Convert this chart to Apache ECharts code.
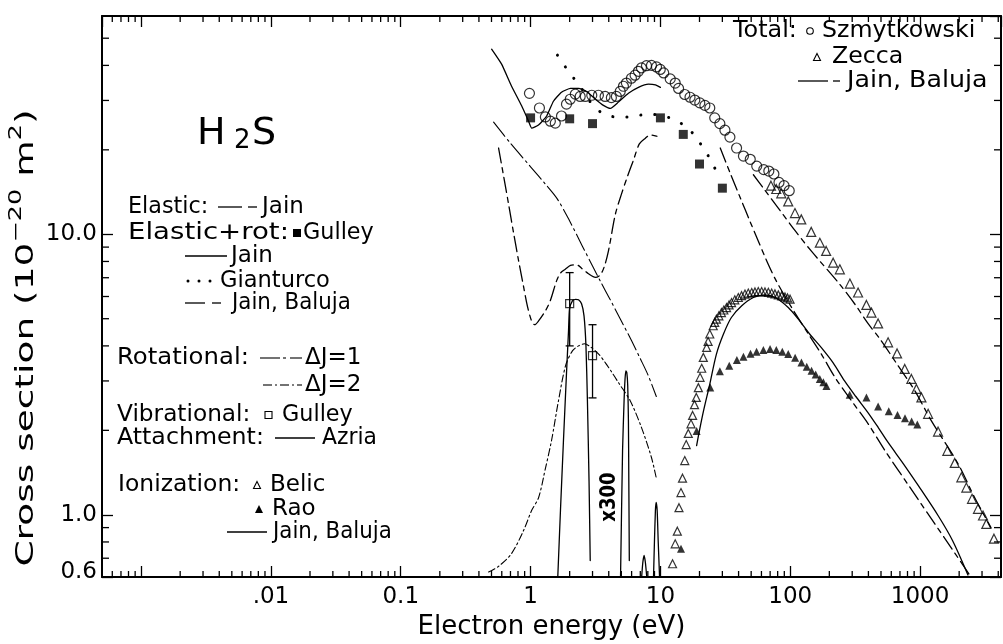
<!DOCTYPE html>
<html>
<head>
<meta charset="utf-8">
<script src="https://cdn.jsdelivr.net/npm/echarts@6/dist/echarts.min.js"></script>
<style>
  html, body { margin: 0; padding: 0; background: #fff; }
  #chart { width: 1003px; height: 644px; }
</style>
</head>
<body>
<div id="chart"></div>
<script>
// Electron scattering on H2S: energy in eV, cross sections in 1e-20 m^2.

// Total cross section, Szmytkowski (open circles)
const szmytkowskiE = [0.98,1.17,1.30,1.42,1.55,1.73,1.89,2.02,2.21,2.41,2.64,2.96,3.33,3.75,4.19,4.58,4.90,5.19,5.47,5.98,6.38,6.77,7.14,7.81,8.53,9.33,9.97,10.6,11.9,13.0,13.8,15.4,16.9,18.4,20.1,22.0,24.0,26.2,28.7,31.4,34.3,38.6,43.6,49.2,55.2,62.5,68.4,74.8,81.9,89.6,98.2];
const szmytkowskiQ = [31.8,28.2,26.2,25.3,24.9,26.4,29.1,30.3,31.6,31.0,31.0,31.3,31.3,31.0,30.7,31.0,32.3,33.7,34.6,36.0,36.9,38.1,39.2,39.9,40.0,39.5,38.7,37.6,35.8,34.6,33.1,31.5,30.8,30.1,29.4,28.8,28.2,26.0,24.8,23.5,22.2,20.3,19.0,18.5,17.5,17.0,16.8,16.4,15.3,14.9,14.3];

// Total cross section, Zecca (open triangles)
const zeccaE = [71.0,78.0,85.3,96.5,108.7,121.6,145,169,189,214,241,288,333,386,422,475,567,665,762,857,937,1024,1153,1375,1622,1849,2079,2271,2513,2793,3053,3237,3707];
const zeccaQ = [14.9,14.5,14.0,13.1,11.9,11.3,10.2,9.33,8.72,7.92,7.50,6.67,6.20,5.60,5.26,4.81,4.12,3.76,3.31,3.05,2.81,2.62,2.29,1.98,1.69,1.53,1.36,1.25,1.14,1.05,0.994,0.928,0.822];

// Total cross section, Jain & Baluja
const totalJainBalujaE = [52.0,62.1,80.9,109,145,240,315,398,490,677,911,1216,1960,2636,3516];
const totalJainBalujaQ = [16.3,14.6,12.4,10.3,8.72,6.64,5.63,4.80,4.24,3.40,2.77,2.17,1.52,1.15,0.90];

// Elastic, Jain
const elasticJainE = [0.567,0.620,0.677,0.740,0.809,0.884,0.948,1.018,1.074,1.152,1.297,1.417,1.585,1.702,1.859,2.03,2.26,2.51,2.79,3.16,3.45,3.71,3.98,4.50,5.01,5.58,6.23,6.88,7.66,8.35,9.30,10.0];
const elasticJainQ = [20.3,16.1,12.8,10.1,8.04,6.49,5.51,4.91,4.76,4.91,5.32,5.79,6.82,7.28,7.52,7.74,7.78,7.52,7.23,7.02,7.17,7.71,8.72,11.8,13.9,16.1,18.5,21.0,22.0,22.6,22.4,22.0];

// Elastic + rotational: Gulley (filled squares)
const gulleyElRotE = [1,2,3,10,15,20,30];
const gulleyElRotQ = [26.0,25.8,24.8,26.0,22.7,17.8,14.6];

// Elastic + rotational: Jain (solid)
const jainElRotE = [0.501,0.598,0.714,0.853,0.965,1.02,1.15,1.33,1.50,1.73,2.03,2.34,2.70,3.16,3.64,4.12,4.75,5.67,6.77,8.09,9.15,10.0];
const jainElRotQ = [45.7,40.4,33.7,28.7,25.3,23.9,24.5,26.4,29.8,32.1,33.1,33.1,32.3,30.3,28.8,28.1,29.6,31.8,33.4,34.3,34.1,33.4];

// Elastic + rotational: Gianturco (dotted)
const gianturcoE = [1.61,1.86,2.18,2.56,2.94,3.58,4.58,5.98,7.81,9.7,12.1,15.1,18.4,21.2,24.4,27.4];
const gianturcoQ = [43.5,39.4,35.7,32.3,29.3,27.0,26.2,26.2,26.8,26.6,25.9,24.5,22.5,20.4,18.4,16.5];

// Elastic + rotational: Jain & Baluja
const elRotJainBalujaE = [28.9,34.5,41.2,49.2,56.7,65.4,78.0,101.8,137.5,173,222,289,398,538,809,1216,1794,2467];
const elRotJainBalujaQ = [20.3,16.5,13.5,11.06,9.47,8.10,6.82,5.51,4.42,3.75,3.08,2.59,2.11,1.69,1.28,0.970,0.746,0.60];

// Rotational excitation, Delta J = 1 and Delta J = 2
const rotJ1E = [0.519,0.70,1.0,1.3,1.6,2.0,2.5,3.0,3.5,4.0,5.0,6.0,7.0,8.0,9.3];
const rotJ1Q = [25.1,21.1,17.4,15.1,13.4,11.15,9.09,7.71,6.71,5.98,4.91,4.17,3.60,3.16,2.64];
const rotJ2E = [0.475,0.567,0.714,0.884,1.018,1.152,1.304,1.45,1.64,1.86,2.10,2.34,2.60,2.89,3.33,3.77,4.19,4.75,5.85,7.14,8.53,9.3];
const rotJ2Q = [0.625,0.655,0.728,0.88,1.035,1.15,1.47,1.84,2.55,3.40,3.84,4.00,4.07,3.97,3.75,3.48,3.24,2.96,2.55,2.05,1.60,1.35];

// Vibrational excitation, Gulley (open squares with error bars)
const gulleyVibE  = [2, 3];
const gulleyVibQ  = [5.66, 3.69];
const gulleyVibLo = [4.0, 2.61];
const gulleyVibHi = [7.3, 4.76];

// Dissociative attachment, Azria (x300), four resonance peaks
const azriaPeak1E = [1.62,1.70,1.79,1.89,1.96,1.995,2.10,2.22,2.34,2.47,2.58,2.67,2.74,2.82,2.88];
const azriaPeak1Q = [0.60,1.045,1.82,3.18,4.53,5.42,5.79,5.86,5.84,5.65,5.12,4.00,2.55,1.32,0.687];
const azriaPeak2E = [4.93,5.11,5.25,5.34,5.42,5.51,5.60,5.67,5.71,5.76];
const azriaPeak2Q = [0.60,1.69,2.55,3.05,3.26,3.21,2.89,2.17,1.32,0.687];
const azriaPeak3E = [7.17,7.32,7.49,7.66,7.85];
const azriaPeak3Q = [0.60,0.676,0.716,0.676,0.60];
const azriaPeak4E = [8.85,9.0,9.15,9.27,9.44,9.61,9.85];
const azriaPeak4Q = [0.60,0.81,1.035,1.107,1.035,0.81,0.60];

// Ionization: Belic (open triangles), Rao (filled triangles), Jain & Baluja (solid)
const belicE = [12.4,13.0,13.5,13.9,14.4,14.8,15.4,15.8,16.4,17.2,17.7,18.3,18.9,19.6,20.2,20.8,21.4,22.7,23.3,24.0,25.5,26.2,27.0,28.2,29.5,30.8,32.3,33.8,35.3,37.4,39.8,42.2,44.8,47.5,50.5,53.5,56.7,60.2,63.9,67.8,71.9,76.2,80.9,85.8,91.1,95.3,99.7];
const belicQ = [0.669,0.788,0.874,1.06,1.20,1.35,1.56,1.78,1.95,2.11,2.26,2.47,2.62,2.84,3.09,3.33,3.64,3.95,4.15,4.41,4.72,4.85,4.98,5.12,5.26,5.37,5.48,5.60,5.71,5.84,5.95,6.04,6.12,6.17,6.20,6.23,6.25,6.25,6.23,6.21,6.17,6.13,6.08,6.03,5.98,5.93,5.87];
const raoE = [14.4,19.0,24.2,28.7,33.9,38.8,43.6,49.4,55.0,62.1,69.9,78.1,86.9,96.5,109,122,134,146,157,169,180,190,287,386,475,574,670,765,861,952];
const raoQ = [0.757,1.99,2.84,3.25,3.40,3.56,3.66,3.75,3.81,3.87,3.90,3.87,3.81,3.74,3.63,3.49,3.37,3.26,3.16,3.05,2.97,2.88,2.68,2.62,2.43,2.34,2.27,2.21,2.15,2.10];
const ionJainBalujaE = [19.0,20.0,21.5,24.0,27.0,30.6,35.2,42.3,52.0,63.9,76.6,96.5,115,141,173,214,262,320,398,475,567,744,970,1375,1777,2338];
const ionJainBalujaQ = [1.765,2.0,2.35,2.92,3.74,4.41,5.05,5.56,5.95,6.08,5.95,5.48,4.99,4.41,3.95,3.48,3.0,2.64,2.31,2.05,1.81,1.52,1.27,0.994,0.81,0.61];

// Axis extents and tick labels
const X_MIN = 0.0005, X_MAX = 4200;
const Y_MIN = 0.6, Y_MAX = 60;
const xTickValues = [0.01, 0.1, 1, 10, 100, 1000];
const xTickLabels = ['.01', '0.1', '1', '10', '100', '1000'];
const yTickValues = [0.6, 1, 10];
const yTickLabels = ['0.6', '1.0', '10.0'];
const minorMultiples = [2, 3, 4, 5, 6, 7, 8, 9];

const INK = '#000';
const FONT = '"DejaVu Sans"';
const MAJOR_TICK = 11, MINOR_TICK = 6;

function pairs(xs, ys) { return xs.map((x, i) => [x, ys[i]]); }

function sameDecadeValue(a, b) { return Math.abs(Math.log10(a) - Math.log10(b)) < 1e-6; }

function xLabel(v) {
  for (let i = 0; i < xTickValues.length; i++) if (sameDecadeValue(v, xTickValues[i])) return xTickLabels[i];
  return '';
}
function yLabel(v) {
  for (let i = 0; i < yTickValues.length; i++) {
    if (sameDecadeValue(v, yTickValues[i])) {
      // the bottom label sits a little above its tick
      return i === 0 ? '{lo|' + yTickLabels[i] + '}' : yTickLabels[i];
    }
  }
  return '';
}

function minorTickValues(lo, hi) {
  const out = [];
  for (let e = -5; e <= 4; e++) {
    for (const m of minorMultiples) {
      const v = m * Math.pow(10, e);
      if (v > lo * 1.0001 && v < hi * 0.9999) out.push(v);
    }
  }
  return out;
}

function curve(name, xs, ys, dash, width, smooth) {
  return {
    name, type: 'line', data: pairs(xs, ys),
    symbol: 'none', showSymbol: false,
    smooth: smooth === undefined ? 0.3 : smooth,
    clip: true, silent: true, z: 3,
    lineStyle: { color: INK, width: width || 1.3, type: dash || 'solid', cap: 'round', join: 'round' }
  };
}

function points(name, xs, ys, symbol, size, filled) {
  return {
    name, type: 'scatter', data: pairs(xs, ys),
    symbol, symbolSize: size, clip: true, silent: true, z: 4,
    itemStyle: filled
      ? { color: INK, borderWidth: 0 }
      : { color: 'rgba(255,255,255,0)', borderColor: INK, borderWidth: 1.2 }
  };
}

const xMinor = minorTickValues(X_MIN, X_MAX);
const yMinor = minorTickValues(Y_MIN, Y_MAX);

function tickLine(x1, y1, x2, y2) {
  return { type: 'line', shape: { x1, y1, x2, y2 }, style: { stroke: INK, lineWidth: 1.3 } };
}

const series = [
  curve('Elastic: Jain', elasticJainE, elasticJainQ, [15, 5, 5, 5]),
  curve('Elastic+rot: Jain', jainElRotE, jainElRotQ, 'solid', 1.3, 0.15),
  curve('Elastic+rot: Gianturco', gianturcoE, gianturcoQ, [0.1, 14], 3),
  curve('Elastic+rot: Jain, Baluja', elRotJainBalujaE, elRotJainBalujaQ, [15, 5, 5, 5]),
  curve('Total: Jain, Baluja', totalJainBalujaE, totalJainBalujaQ, [15, 5, 5, 5]),
  curve('Rotational: ΔJ=1', rotJ1E, rotJ1Q, [18, 4, 2, 4], 1.1),
  curve('Rotational: ΔJ=2', rotJ2E, rotJ2Q, [7, 3, 2, 3], 1.1),
  curve('Attachment: Azria', azriaPeak1E, azriaPeak1Q, 'solid', 1.3, 0.2),
  curve('Attachment: Azria', azriaPeak2E, azriaPeak2Q, 'solid', 1.3, 0.2),
  curve('Attachment: Azria', azriaPeak3E, azriaPeak3Q, 'solid', 1.3, 0.2),
  curve('Attachment: Azria', azriaPeak4E, azriaPeak4Q, 'solid', 1.3, 0.2),
  curve('Ionization: Jain, Baluja', ionJainBalujaE, ionJainBalujaQ, 'solid'),
  points('Total: Szmytkowski', szmytkowskiE, szmytkowskiQ, 'circle', 10, false),
  points('Total: Zecca', zeccaE, zeccaQ, 'triangle', 9, false),
  points('Elastic+rot: Gulley', gulleyElRotE, gulleyElRotQ, 'rect', 9, true),
  points('Vibrational: Gulley', gulleyVibE, gulleyVibQ, 'rect', 8, false),
  points('Ionization: Belic', belicE, belicQ, 'triangle', 8, false),
  points('Ionization: Rao', raoE, raoQ, 'triangle', 8, true),
  {
    name: 'Vibrational: Gulley error', type: 'custom', coordinateSystem: 'cartesian2d',
    data: gulleyVibE.map((e, i) => [e, gulleyVibLo[i], gulleyVibHi[i]]),
    encode: { x: 0, y: [1, 2] }, silent: true, z: 4,
    renderItem(params, api) {
      const e = api.value(0);
      const lo = api.coord([e, api.value(1)]);
      const hi = api.coord([e, api.value(2)]);
      const w = 4;
      return { type: 'group', children: [
        tickLine(lo[0], lo[1], hi[0], hi[1]),
        tickLine(lo[0] - w, lo[1], lo[0] + w, lo[1]),
        tickLine(hi[0] - w, hi[1], hi[0] + w, hi[1])
      ] };
    }
  },
  {
    name: 'x minor ticks', type: 'custom', coordinateSystem: 'cartesian2d',
    data: xMinor.map(v => [v, Y_MIN]), silent: true, clip: false, z: 5,
    renderItem(params, api) {
      const v = api.value(0);
      const b = api.coord([v, Y_MIN]);
      const t = api.coord([v, Y_MAX]);
      return { type: 'group', children: [
        tickLine(b[0], b[1], b[0], b[1] - MINOR_TICK),
        tickLine(t[0], t[1], t[0], t[1] + MINOR_TICK)
      ] };
    }
  },
  {
    name: 'y minor ticks', type: 'custom', coordinateSystem: 'cartesian2d',
    data: yMinor.map(v => [X_MIN, v]), silent: true, clip: false, z: 5,
    renderItem(params, api) {
      const v = api.value(1);
      const l = api.coord([X_MIN, v]);
      const r = api.coord([X_MAX, v]);
      return { type: 'group', children: [
        tickLine(l[0], l[1], l[0] + MINOR_TICK + 1, l[1]),
        tickLine(r[0], r[1], r[0] - MINOR_TICK - 1, r[1])
      ] };
    }
  }
];

// Legend block drawn as graphic elements
const TXT = '23px ' + FONT;
function text(str, x, y, sx) {
  return {
    type: 'text', x, y, scaleX: sx || 1, z: 20, silent: true,
    style: { text: str, font: TXT, fill: INK, align: 'left', verticalAlign: 'middle' }
  };
}
function seg(x1, x2, y, w) {
  return { type: 'line', z: 20, silent: true, shape: { x1, y1: y, x2, y2: y }, style: { stroke: INK, lineWidth: w || 1.3 } };
}
function dot(cx, cy, r) {
  return { type: 'circle', z: 20, silent: true, shape: { cx, cy, r }, style: { fill: INK } };
}
function tri(cx, cy, s, filled) {
  return { type: 'polygon', z: 20, silent: true,
    shape: { points: [[cx, cy - s / 2], [cx + s / 2, cy + s / 2], [cx - s / 2, cy + s / 2]] },
    style: filled ? { fill: INK } : { fill: 'none', stroke: INK, lineWidth: 1.1 } };
}
function box(cx, cy, s, filled) {
  return { type: 'rect', z: 20, silent: true, shape: { x: cx - s / 2, y: cy - s / 2, width: s, height: s },
    style: filled ? { fill: INK } : { fill: 'none', stroke: INK, lineWidth: 1.1 } };
}
function ring(cx, cy, r) {
  return { type: 'circle', z: 20, silent: true, shape: { cx, cy, r }, style: { fill: 'none', stroke: INK, lineWidth: 1.1 } };
}

const graphic = [
  // molecule label
  { type: 'text', x: 197, y: 115, z: 20, silent: true, style: { text: 'H', font: '38px ' + FONT, fill: INK, verticalAlign: 'alphabetic' } },
  { type: 'text', x: 234, y: 128, z: 20, silent: true, style: { text: '2', font: '26px ' + FONT, fill: INK, verticalAlign: 'alphabetic' } },
  { type: 'text', x: 252, y: 115, z: 20, silent: true, style: { text: 'S', font: '38px ' + FONT, fill: INK, verticalAlign: 'alphabetic' } },

  // elastic group
  text('Elastic:', 128, 207, 0.97),
  seg(218, 242, 207), seg(248, 257, 207),
  text('Jain', 262, 207),
  text('Elastic+rot:', 128, 233, 1.2),
  box(297, 233, 8, true),
  text('Gulley', 303, 233, 0.97),
  seg(185, 227, 256),
  text('Jain', 231, 256),
  dot(188, 281, 1.5), dot(199, 281, 1.5), dot(210, 281, 1.5),
  text('Gianturco', 220, 281, 0.98),
  seg(185, 205, 303), seg(212, 221, 303),
  text('Jain, Baluja', 232, 303, 0.93),

  // rotational, vibrational, attachment
  text('Rotational:', 117, 358, 1.06),
  seg(260, 280, 358, 1.1), seg(283, 286, 358, 1.1), seg(290, 302, 358, 1.1),
  text('ΔJ=1', 305, 358),
  seg(263, 272, 385, 1.1), seg(275, 277, 385, 1.1), seg(280, 289, 385, 1.1), seg(292, 294, 385, 1.1), seg(297, 302, 385, 1.1),
  text('ΔJ=2', 305, 385),
  text('Vibrational:', 117, 415, 1.01),
  box(268.5, 415, 7, false),
  text('Gulley', 282, 415, 0.97),
  text('Attachment:', 117, 438, 1.03),
  seg(275, 315, 438),
  text('Azria', 322, 438, 0.95),

  // ionization
  text('Ionization:', 118, 485, 1.02),
  tri(257, 485, 7, false),
  text('Belic', 270, 485),
  tri(259, 509, 8, true),
  text('Rao', 272, 509),
  seg(227, 267, 532),
  text('Jain, Baluja', 273, 532, 0.93),

  // total
  text('Total:', 733, 31, 1.04),
  ring(810, 31, 3.3),
  text('Szmytkowski', 822, 31, 1.03),
  tri(817, 57, 7, false),
  text('Zecca', 832, 57, 1.03),
  seg(798, 828, 81), seg(833, 840, 81),
  text('Jain, Baluja', 847, 81, 1.1),

  // attachment scale factor
  { type: 'text', x: 609, y: 497, rotation: Math.PI / 2, scaleX: 0.82, z: 20, silent: true,
    style: { text: 'x300', font: 'bold 22px ' + FONT, fill: INK, align: 'center', verticalAlign: 'middle' } },

  // y axis title
  { type: 'text', x: 26, y: 338, rotation: Math.PI / 2, scaleX: 1.5, z: 20, silent: true,
    style: {
      text: '{m|Cross section (10}{s|−20}{m| m}{s|2}{m|)}', fill: INK, align: 'center', verticalAlign: 'middle',
      rich: {
        m: { fontSize: 25, fontFamily: 'DejaVu Sans', lineHeight: 36, verticalAlign: 'middle', fill: INK },
        s: { fontSize: 17, fontFamily: 'DejaVu Sans', lineHeight: 36, verticalAlign: 'top', fill: INK }
      }
    } }
];

const axisLineStyle = { show: true, onZero: false, lineStyle: { color: INK, width: 2 } };
const majorTick = { show: true, inside: true, length: MAJOR_TICK, lineStyle: { color: INK, width: 1.3 } };

const option = {
  animation: false,
  backgroundColor: '#fff',
  grid: { left: 102, right: 2, top: 16, bottom: 67, containLabel: false, outerBoundsMode: 'none' },
  xAxis: [
    {
      type: 'log', logBase: 10, min: X_MIN, max: X_MAX, position: 'bottom',
      axisLine: axisLineStyle, axisTick: majorTick, splitLine: { show: false }, minorTick: { show: false },
      axisLabel: { show: true, margin: 9, color: INK, fontFamily: 'DejaVu Sans', fontSize: 23,
        showMinLabel: false, showMaxLabel: false, formatter: xLabel },
      name: 'Electron energy (eV)', nameLocation: 'middle', nameGap: 34,
      nameTextStyle: { color: INK, fontFamily: 'DejaVu Sans', fontSize: 26 }
    },
    {
      type: 'log', logBase: 10, min: X_MIN, max: X_MAX, position: 'top',
      axisLine: axisLineStyle, axisTick: majorTick, splitLine: { show: false },
      axisLabel: { show: false }
    }
  ],
  yAxis: [
    {
      type: 'log', logBase: 10, min: Y_MIN, max: Y_MAX, position: 'left',
      axisLine: axisLineStyle, axisTick: majorTick, splitLine: { show: false },
      axisLabel: { show: true, margin: 5, color: INK, fontFamily: 'DejaVu Sans', fontSize: 23,
        showMinLabel: true, showMaxLabel: false, formatter: yLabel,
        rich: { lo: { color: INK, fontFamily: 'DejaVu Sans', fontSize: 23, padding: [0, 0, 10, 0] } } }
    },
    {
      type: 'log', logBase: 10, min: Y_MIN, max: Y_MAX, position: 'right',
      axisLine: axisLineStyle, axisTick: majorTick, splitLine: { show: false },
      axisLabel: { show: false }
    }
  ],
  series,
  graphic
};

const chart = echarts.init(document.getElementById('chart'), null, { renderer: 'canvas' });
chart.setOption(option);
</script>
</body>
</html>
